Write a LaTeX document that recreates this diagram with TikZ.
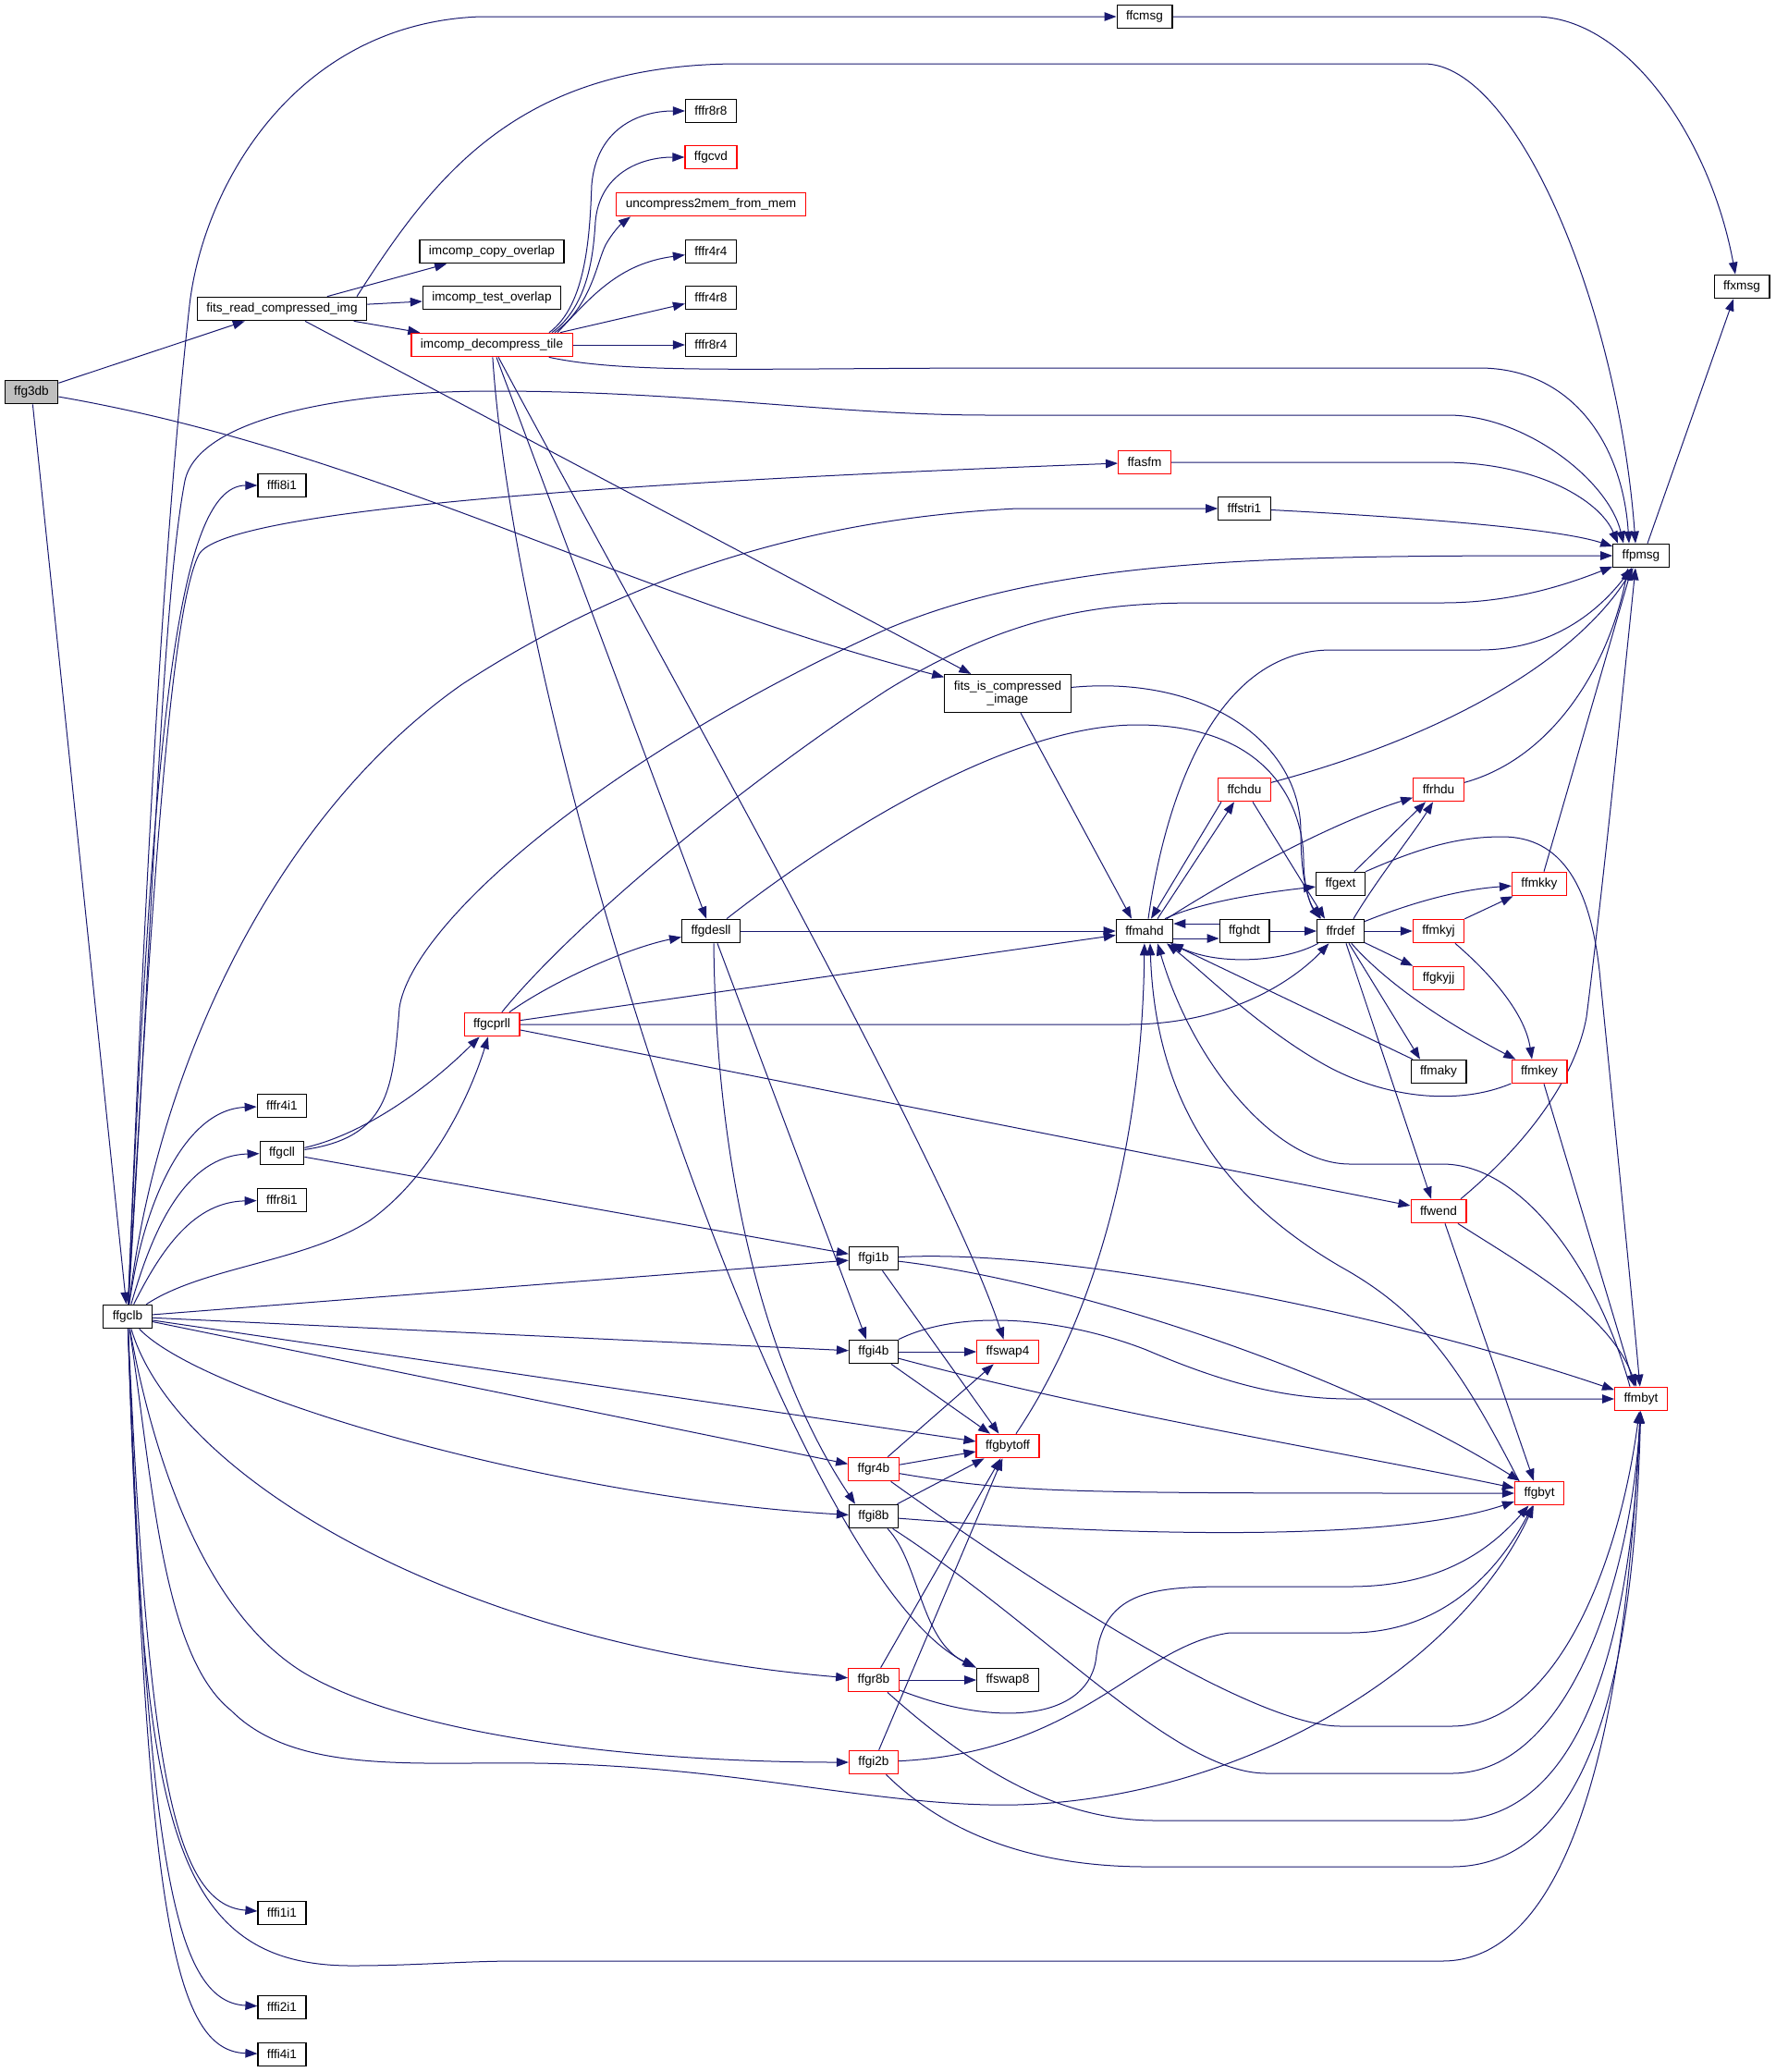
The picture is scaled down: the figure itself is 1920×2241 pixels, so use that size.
\documentclass[tikz,border=0pt]{standalone}
\usepackage{fontspec}
\setmainfont{Liberation Sans}
\usetikzlibrary{arrows.meta,backgrounds}
\definecolor{edgec}{HTML}{191970}
\definecolor{nodered}{HTML}{FF0000}
\definecolor{nodegray}{HTML}{BFBFBF}
\newcommand\nfont{\fontsize{13.6pt}{14.5pt}\selectfont}
\begin{document}
\begin{tikzpicture}[x=1pt,y=-1pt,
  nd/.style={draw=black,line width=1.2pt,fill=white,inner xsep=10pt,inner ysep=0pt,minimum height=25.5pt,font=\nfont},
  rd/.style={nd,draw=nodered},
  cl/.style={draw=edgec,line width=1pt,-{Triangle[length=13pt,width=9.5pt]}}]
\useasboundingbox (0,0) rectangle (1920,2241);
% ---------------- nodes ----------------
\node[nd,fill=nodegray] (ffg3db) at (34,424) {ffg3db};
\node[nd] (fitsread) at (305,334) {fits\_read\_compressed\_img};
\node[nd] (copyov) at (532,272) {imcomp\_copy\_overlap};
\node[nd] (testov) at (532,322) {imcomp\_test\_overlap};
\node[rd] (tile) at (532,373) {imcomp\_decompress\_tile};
\node[nd] (fr8r8) at (769,120) {fffr8r8};
\node[rd] (gcvd) at (769,170) {ffgcvd};
\node[rd] (uncomp) at (769,221) {uncompress2mem\_from\_mem};
\node[nd] (fr4r4) at (769,272) {fffr4r4};
\node[nd] (fr4r8) at (769,322) {fffr4r8};
\node[nd] (fr8r4) at (769,373) {fffr8r4};
\node[nd] (cmsg) at (1238,18) {ffcmsg};
\node[nd] (xmsg) at (1884,310) {ffxmsg};
\node[rd] (asfm) at (1238,500) {ffasfm};
\node[nd] (fi8i1) at (305,525) {fffi8i1};
\node[nd] (fstri) at (1346,550) {fffstri1};
\node[nd] (pmsg) at (1775,601) {ffpmsg};
\node[nd,minimum height=41pt,align=center] (fic) at (1090,750) {fits\_is\_compressed\\\_image};
\node[rd] (chdu) at (1346,854) {ffchdu};
\node[rd] (rhdu) at (1556,854) {ffrhdu};
\node[nd] (gext) at (1450,956) {ffgext};
\node[rd] (mkky) at (1665,956) {ffmkky};
\node[nd] (mahd) at (1238,1007) {ffmahd};
\node[nd] (ghdt) at (1346,1007) {ffghdt};
\node[nd] (rdef) at (1450,1007) {ffrdef};
\node[rd] (mkyj) at (1556,1007) {ffmkyj};
\node[nd] (gdesll) at (769,1007) {ffgdesll};
\node[rd] (gkyjj) at (1556,1058) {ffgkyjj};
\node[rd] (gcprll) at (532,1108) {ffgcprll};
\node[nd] (maky) at (1556,1159) {ffmaky};
\node[rd] (mkey) at (1665,1159) {ffmkey};
\node[nd] (fr4i1) at (305,1196) {fffr4i1};
\node[nd] (gcll) at (305,1247) {ffgcll};
\node[nd] (fr8i1) at (305,1298) {fffr8i1};
\node[rd] (wend) at (1556,1310) {ffwend};
\node[nd] (gi1b) at (945,1361) {ffgi1b};
\node[nd] (gclb) at (138,1424) {ffgclb};
\node[nd] (gi4b) at (945,1462) {ffgi4b};
\node[rd] (swap4) at (1090,1462) {ffswap4};
\node[rd] (mbyt) at (1775,1513) {ffmbyt};
\node[rd] (gbytoff) at (1090,1564) {ffgbytoff};
\node[rd] (gr4b) at (945,1589) {ffgr4b};
\node[rd] (gbyt) at (1665,1615) {ffgbyt};
\node[nd] (gi8b) at (945,1640) {ffgi8b};
\node[rd] (gr8b) at (945,1817) {ffgr8b};
\node[nd] (swap8) at (1090,1817) {ffswap8};
\node[rd] (gi2b) at (945,1906) {ffgi2b};
\node[nd] (fi1i1) at (305,2069) {fffi1i1};
\node[nd] (fi2i1) at (305,2171) {fffi2i1};
\node[nd] (fi4i1) at (305,2222) {fffi4i1};
% ---------------- edges ----------------
\begin{pgfonlayer}{background}
\fill[white] (0,0) rectangle (1920,2241);
% ffg3db
\draw[cl] (ffg3db) -- (fitsread);
\draw[cl] (ffg3db) .. controls (404,488) and (674,643) .. (fic);
\draw[cl] (ffg3db) -- (gclb);
% fits_read_compressed_img
\draw[cl] (fitsread) -- (copyov);
\draw[cl] (fitsread) -- (testov);
\draw[cl] (fitsread) -- (tile);
\draw[cl] (fitsread) -- (fic);
\draw[cl] ([xshift=81pt]fitsread.north) .. controls (470,190) and (560,69) .. (800,69) -- (1540,69) .. controls (1640,69) and (1750,330) .. ([xshift=-6pt]pmsg.north);
% imcomp_decompress_tile
\draw[cl] ([xshift=62pt]tile.north) .. controls (635,330) and (638,250) .. (640,200) .. controls (645,140) and (690,120) .. (fr8r8);
\draw[cl] ([xshift=65pt]tile.north) .. controls (638,330) and (642,270) .. (644,240) .. controls (648,190) and (690,170) .. (gcvd);
\draw[cl] ([xshift=68pt]tile.north) .. controls (640,330) and (645,285) .. (655,265) .. controls (662,252) and (672,242) .. ([xshift=-87pt]uncomp.south);
\draw[cl] ([xshift=71pt]tile.north) .. controls (640,320) and (670,285) .. (fr4r4);
\draw[cl] ([xshift=74pt]tile.north) -- (fr4r8);
\draw[cl] (tile) -- (fr8r4);
\draw[cl] (tile) .. controls (680,405) and (820,398) .. (1100,398) -- (1600,398) .. controls (1700,398) and (1755,480) .. ([xshift=-13pt]pmsg.north);
\draw[cl] (tile) -- (gdesll);
\draw[cl] (tile) .. controls (680,650) and (1020,1250) .. (swap4);
\draw[cl] (tile) .. controls (560,800) and (850,1700) .. ([xshift=-2pt,yshift=1pt]swap8.north west);
% ffgclb
\draw[cl] (gclb) .. controls (155,1000) and (175,600) .. (205,330) .. controls (220,200) and (320,25) .. (520,18) -- (cmsg);
\draw[cl] (gclb) .. controls (165,1000) and (175,650) .. (200,520) .. controls (215,450) and (380,423) .. (533,423) .. controls (750,423) and (900,449) .. (1070,449) -- (1566,449) .. controls (1650,449) and (1740,520) .. ([xshift=-19pt]pmsg.north);
\draw[cl] (gclb) .. controls (165,800) and (190,525) .. (fi8i1);
\draw[cl] (gclb) .. controls (165,950) and (185,660) .. (215,600) .. controls (240,550) and (700,520) .. (asfm);
\draw[cl] (gclb) .. controls (170,1150) and (300,880) .. (500,740) .. controls (700,610) and (900,560) .. (1100,550) -- (fstri);
\draw[cl] (gclb) .. controls (155,1300) and (200,1200) .. (fr4i1);
\draw[cl] (gclb) .. controls (165,1330) and (200,1250) .. (gcll);
\draw[cl] (gclb) .. controls (175,1350) and (210,1300) .. (fr8i1);
\draw[cl] (gclb) .. controls (220,1370) and (330,1365) .. (400,1320) .. controls (470,1270) and (510,1180) .. (gcprll);
\draw[cl] (gclb) -- (gi1b);
\draw[cl] (gclb) -- (gi4b);
\draw[cl] (gclb) -- (gbytoff);
\draw[cl] (gclb) -- (gr4b);
\draw[cl] (gclb) .. controls (220,1510) and (600,1620) .. (gi8b);
\draw[cl] (gclb) .. controls (190,1600) and (500,1780) .. (gr8b);
\draw[cl] (gclb) .. controls (170,1600) and (230,1750) .. (330,1810) .. controls (450,1880) and (700,1906) .. (gi2b);
\draw[cl] (gclb) .. controls (165,1600) and (175,1790) .. (250,1850) .. controls (320,1920) and (450,1905) .. (580,1907) .. controls (800,1910) and (950,1955) .. (1100,1952) .. controls (1350,1945) and (1580,1800) .. (gbyt);
\draw[cl] (gclb) .. controls (155,1950) and (175,2126) .. (380,2126) .. controls (450,2126) and (500,2121) .. (560,2121) -- (1560,2121) .. controls (1740,2121) and (1765,1700) .. (mbyt);
\draw[cl] (gclb) .. controls (160,1900) and (185,2060) .. (fi1i1);
\draw[cl] (gclb) .. controls (160,2000) and (185,2165) .. (fi2i1);
\draw[cl] (gclb) .. controls (160,2060) and (185,2218) .. (fi4i1);
% ffgcll
\draw[cl] (gcll) .. controls (420,1230) and (425,1180) .. (432,1090) .. controls (445,1000) and (650,820) .. (960,680) .. controls (1150,600) and (1400,601) .. (pmsg);
\draw[cl] (gcll) .. controls (400,1225) and (470,1170) .. (gcprll);
\draw[cl] (gcll) -- (gi1b);
% ffgcprll
\draw[cl] (gcprll) .. controls (620,1000) and (800,850) .. (960,746) .. controls (1100,660) and (1200,652) .. (1300,652) -- (1560,652) .. controls (1640,652) and (1700,630) .. (pmsg);
\draw[cl] (gcprll) .. controls (600,1060) and (680,1025) .. (gdesll);
\draw[cl] (gcprll) -- (mahd);
\draw[cl] (gcprll.east) -- (1220,1108) .. controls (1330,1108) and (1400,1060) .. (rdef);
\draw[cl] (gcprll) -- (wend);
% ffgdesll
\draw[cl] (gdesll) -- (mahd);
\draw[cl] (gdesll) .. controls (880,920) and (1080,784) .. (1230,784) .. controls (1380,784) and (1410,880) .. (1410,930) .. controls (1410,960) and (1418,980) .. ([xshift=-22pt]rdef.north);
\draw[cl] ([xshift=7pt]gdesll.south) -- ([xshift=-8pt]gi4b.north);
\draw[cl] ([xshift=3pt]gdesll.south) .. controls (775,1300) and (840,1500) .. ([xshift=-20pt]gi8b.north);
% ffgi1b
\draw[cl] (gi1b) -- (gbytoff);
\draw[cl] (gi1b) .. controls (1150,1385) and (1450,1480) .. (gbyt);
\draw[cl] (gi1b) .. controls (1150,1350) and (1500,1420) .. (mbyt);
% ffgi4b
\draw[cl] (gi4b) -- (swap4);
\draw[cl] (gi4b) -- (gbytoff);
\draw[cl] (gi4b) .. controls (1200,1530) and (1450,1570) .. (gbyt);
\draw[cl] (gi4b) .. controls (1040,1415) and (1150,1425) .. (1240,1460) .. controls (1310,1490) and (1380,1513) .. (1460,1513) -- (mbyt);
% ffgr4b
\draw[cl] (gr4b) -- (swap4);
\draw[cl] (gr4b) -- (gbytoff);
\draw[cl] (gr4b) .. controls (1100,1615) and (1150,1615) .. (gbyt);
\draw[cl] (gr4b) .. controls (1100,1700) and (1350,1867) .. (1450,1867) -- (1570,1867) .. controls (1680,1867) and (1750,1700) .. (mbyt);
% ffgi8b
\draw[cl] (gi8b) -- (gbytoff);
\draw[cl] (gi8b) .. controls (1200,1660) and (1500,1670) .. (gbyt);
\draw[cl] ([xshift=15pt]gi8b.south) .. controls (995,1690) and (995,1775) .. (swap8.north west);
\draw[cl] (gi8b) .. controls (1130,1760) and (1270,1918) .. (1370,1918) -- (1570,1918) .. controls (1700,1918) and (1765,1700) .. (mbyt);
% ffgr8b
\draw[cl] (gr8b) -- (swap8);
\draw[cl] (gr8b) -- (gbytoff);
\draw[cl] (gr8b) .. controls (1080,1870) and (1180,1860) .. (1186,1790) .. controls (1195,1720) and (1250,1716) .. (1330,1716) -- (1460,1716) .. controls (1540,1716) and (1600,1690) .. (gbyt);
\draw[cl] (gr8b) .. controls (1060,1920) and (1150,1969) .. (1250,1969) -- (1570,1969) .. controls (1720,1969) and (1765,1750) .. (mbyt);
% ffgi2b
\draw[cl] (gi2b) -- (gbytoff);
\draw[cl] (gi2b) .. controls (1170,1895) and (1230,1780) .. (1330,1766) -- (1460,1766) .. controls (1560,1766) and (1620,1700) .. (gbyt);
\draw[cl] (gi2b) .. controls (1030,1990) and (1130,2019) .. (1240,2019) -- (1570,2019) .. controls (1730,2019) and (1768,1780) .. (mbyt);
% into ffmahd
\draw[cl] (gbytoff) .. controls (1200,1400) and (1236,1200) .. (mahd);
\draw[cl] ([xshift=-22pt]gbyt.north) .. controls (1580,1480) and (1540,1420) .. (1450,1370) .. controls (1330,1300) and (1250,1200) .. ([xshift=6pt]mahd.south);
\draw[cl] ([xshift=-12pt]mbyt.north) .. controls (1730,1380) and (1650,1259) .. (1560,1259) -- (1460,1259) .. controls (1380,1259) and (1290,1150) .. ([xshift=14pt]mahd.south);
\draw[cl] (mkey) .. controls (1580,1195) and (1500,1190) .. (1430,1150) .. controls (1360,1110) and (1300,1050) .. ([xshift=24pt]mahd.south);
\draw[cl] (maky) -- (mahd);
\draw[cl] (rdef) .. controls (1390,1040) and (1320,1045) .. (mahd);
\draw[cl] ([yshift=8pt]ghdt.west) -- ([yshift=8pt]mahd.east);
\draw[cl] ([yshift=-8pt]mahd.east) -- ([yshift=-8pt]ghdt.west);
% ffmahd out
\draw[cl] ([xshift=22pt]mahd.north) .. controls (1300,975) and (1370,965) .. (gext);
\draw[cl] ([xshift=14pt]mahd.north) -- ([xshift=-11pt]chdu.south);
\draw[cl] ([xshift=-25pt]chdu.south) -- ([xshift=7pt]mahd.north);
\draw[cl] ([xshift=24pt]mahd.north) .. controls (1330,950) and (1440,890) .. (rhdu);
\draw[cl] ([xshift=4pt]mahd.north) .. controls (1255,900) and (1300,703) .. (1440,703) -- (1600,703) .. controls (1680,703) and (1730,660) .. (pmsg);
% ffchdu
\draw[cl] (chdu) .. controls (1550,800) and (1700,720) .. (pmsg);
\draw[cl] ([xshift=9pt]chdu.south) -- ([xshift=-17pt]rdef.north);
% fits_is_compressed_image
\draw[cl] ([xshift=14pt]fic.south) -- ([xshift=-14pt]mahd.north);
\draw[cl] (fic) .. controls (1300,730) and (1407,800) .. (1407,900) .. controls (1407,950) and (1415,975) .. ([xshift=-21pt]rdef.north);
% ffgext
\draw[cl] ([xshift=15pt]gext.north) -- ([xshift=-14pt]rhdu.south);
\draw[cl] (gext.north east) .. controls (1540,915) and (1580,905) .. (1625,905) .. controls (1690,905) and (1720,960) .. (1730,1050) .. controls (1745,1200) and (1765,1400) .. (mbyt);
% ffrdef
\draw[cl] ([xshift=14pt]rdef.north) .. controls (1490,950) and (1530,900) .. ([xshift=-6pt]rhdu.south);
\draw[cl] (ghdt) -- (rdef);
\draw[cl] (rdef) -- (mkyj);
\draw[cl] (rdef) .. controls (1530,975) and (1580,962) .. (mkky);
\draw[cl] (rdef) -- (gkyjj);
\draw[cl] ([xshift=9pt]rdef.south) -- ([xshift=-20pt]maky.north);
\draw[cl] (rdef) .. controls (1510,1075) and (1590,1120) .. (mkey);
\draw[cl] ([xshift=6pt]rdef.south) -- ([xshift=-8pt]wend.north);
% ffmkyj
\draw[cl] (mkyj) -- (mkky);
\draw[cl] ([xshift=18pt]mkyj.south) .. controls (1620,1060) and (1650,1100) .. ([xshift=-8pt]mkey.north);
% to ffpmsg / ffmbyt
\draw[cl] ([xshift=5pt]mkky.north) -- ([xshift=-10pt]pmsg.south);
\draw[cl] (rhdu) .. controls (1680,820) and (1740,720) .. ([xshift=-14pt]pmsg.south);
\draw[cl] ([xshift=5pt]mkey.south) -- ([xshift=-7pt]mbyt.north);
% ffwend
\draw[cl] ([xshift=24pt]wend.north) .. controls (1660,1230) and (1705,1160) .. (1716,1100) .. controls (1735,950) and (1755,750) .. ([xshift=-6pt]pmsg.south);
\draw[cl] ([xshift=7pt]wend.south) -- ([xshift=-6pt]gbyt.north);
\draw[cl] (wend) .. controls (1650,1370) and (1740,1420) .. (mbyt);
% messages
\draw[cl] (cmsg) -- (1660,18) .. controls (1760,18) and (1850,150) .. ([xshift=-7pt]xmsg.north);
\draw[cl] ([xshift=7pt]pmsg.north) -- ([xshift=-9pt]xmsg.south);
\draw[cl] (asfm) -- (1560,500) .. controls (1660,500) and (1730,540) .. ([xshift=-25pt]pmsg.north);
\draw[cl] (fstri) .. controls (1500,558) and (1680,570) .. (pmsg);
\end{pgfonlayer}
\end{tikzpicture}
\end{document}
